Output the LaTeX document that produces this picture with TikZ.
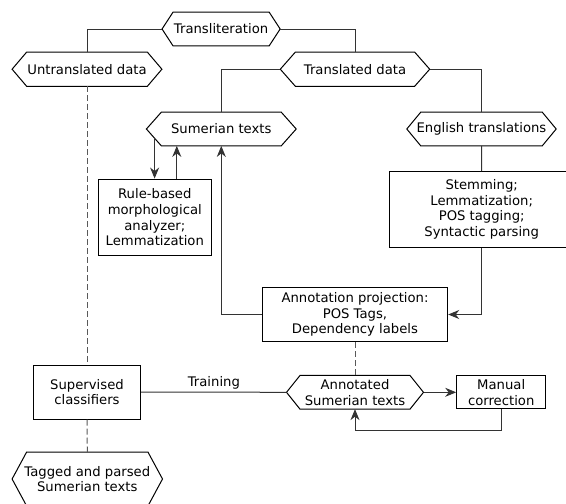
\documentclass[tikz,border=0pt]{standalone}
\usepackage{fontspec}
\setmainfont{DejaVu Sans}
\usetikzlibrary{arrows.meta,calc}
\newcommand\hexdraw[2]{%
  \draw[nodeline] (#1.west) -- ([xshift=#2]#1.north west) -- ([xshift=-#2]#1.north east)
    -- (#1.east) -- ([xshift=-#2]#1.south east) -- ([xshift=#2]#1.south west) -- cycle;}
\begin{document}
\begin{tikzpicture}[x=1pt,y=-1pt,
  every node/.style={font=\fontsize{13.2}{15.6}\selectfont, align=center, inner sep=0pt},
  nodeline/.style={draw=black, line width=1pt},
  boxnode/.style={draw=black, line width=1pt},
  conn/.style={draw=black!80, line width=1pt},
  arr/.style={conn, -{Stealth[length=11pt,width=9pt,inset=3.5pt]}},
  dashline/.style={draw=black!65, line width=1pt, dash pattern=on 6pt off 3pt}]
\clip (0,0) rectangle (566,504);
% hexagon nodes (text areas)
\node[minimum width=117.7pt, minimum height=33.4pt] (trans) at (221.1,29) {Transliteration};
\node[minimum width=149.4pt, minimum height=33.7pt] (untr) at (87,69.2) {Untranslated data};
\node[minimum width=149pt, minimum height=33.7pt] (transd) at (355,69.2) {Translated data};
\node[minimum width=149.4pt, minimum height=33.4pt] (sum) at (221.3,129) {Sumerian texts};
\node[minimum width=149pt, minimum height=33.4pt] (eng) at (481.5,129) {English translations};
\node[minimum width=150pt, minimum height=53.4pt] (tag) at (87.3,479) {Tagged and parsed\\Sumerian texts};
\node[minimum width=136.6pt, minimum height=33.3pt] (annot) at (355,392.3) {Annotated\\Sumerian texts};
\hexdraw{trans}{11pt}
\hexdraw{untr}{14.5pt}
\hexdraw{transd}{15pt}
\hexdraw{sum}{15pt}
\hexdraw{eng}{14pt}
\hexdraw{tag}{14.5pt}
\hexdraw{annot}{13.5pt}
% rectangle nodes
\node[boxnode, minimum width=113.5pt, minimum height=76.5pt] (rule) at (154.8,217.3) {Rule-based\\morphological\\analyzer;\\Lemmatization};
\node[boxnode, minimum width=185.4pt, minimum height=76pt] (stem) at (481.7,209.5) {Stemming;\\Lemmatization;\\POS tagging;\\Syntactic parsing};
\node[boxnode, minimum width=185.4pt, minimum height=54.4pt] (annp) at (355,314.5) {Annotation projection:\\POS Tags,\\Dependency labels};
\node[boxnode, minimum width=107.4pt, minimum height=54pt] (sup) at (87,392) {Supervised\\classifiers};
\node[boxnode, minimum width=89pt, minimum height=33.3pt] (man) at (501.2,392.3) {Manual\\correction};
% connectors
\draw[conn] (trans.west) -| (untr.north);
\draw[conn] (trans.east) -| (transd.north);
\draw[conn] (transd.west) -| (sum.north);
\draw[conn] (transd.east) -| (eng.north);
\draw[conn] (eng.south) -- (stem.north);
\draw[arr] (stem.south) |- (annp.east);
\draw[arr] (annp.west) -| (sum.south);
\coordinate (sdl) at ($(sum.west)!0.547!([xshift=15pt]sum.south west)$);
\draw[arr] (sdl) -- (sdl |- rule.north);
\coordinate (rup) at ([xshift=22pt]rule.north);
\draw[arr] (rup) -- (rup |- sum.south);
\draw[dashline] (untr.south) -- (sup.north);
\draw[dashline] (sup.south) -- (tag.north);
\draw[dashline] (annp.south) -- (annot.north);
\draw[conn] (sup.east) -- node[above=2pt] (trlab) {Training} (annot.west);
\draw[arr] (annot.east) -- (man.west);
\draw[arr] (man.south) -- ++(0,21) -| (annot.south);
\end{tikzpicture}
\end{document}
